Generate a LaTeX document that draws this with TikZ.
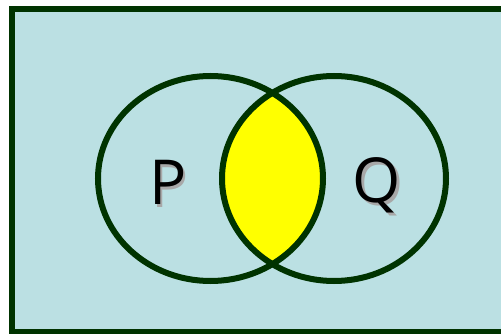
\documentclass[tikz,border=0pt]{standalone}
\usepackage{fontspec}
\setmainfont{Open Sans}
\definecolor{bgblue}{HTML}{BBE0E3}
\definecolor{dgreen}{HTML}{003300}
\definecolor{shadowgray}{HTML}{A8A8A8}
\definecolor{lensyellow}{HTML}{FFFF00}
\newcommand{\shadowtext}[1]{\rlap{\hspace{2.5pt}\raisebox{-2.5pt}{\textcolor{shadowgray}{#1}}}#1}
\tikzset{
  venn/.style={draw=dgreen, line width=6pt},
  lbl/.style={font=\fontsize{62}{62}\selectfont, text=black, inner sep=0pt}
}
\begin{document}
\begin{tikzpicture}[x=1pt,y=-1pt]
\useasboundingbox (0,0) rectangle (501,334);
\clip (0,0) rectangle (501,334);
\draw[fill=bgblue, draw=dgreen, line width=6pt] (12,9) rectangle (506,332);
\begin{scope}
  \clip (210.5,178.5) ellipse [x radius=112.5, y radius=102.5];
  \fill[lensyellow] (334,178.5) ellipse [x radius=112, y radius=102.5];
\end{scope}
\draw[venn] (210.5,178.5) ellipse [x radius=112.5, y radius=102.5];
\draw[venn] (334,178.5) ellipse [x radius=112, y radius=102.5];
\node[lbl] (p) at (168,184) {\shadowtext{P}};
\node[lbl] (q) at (377,187) {\shadowtext{Q}};
\end{tikzpicture}
\end{document}
